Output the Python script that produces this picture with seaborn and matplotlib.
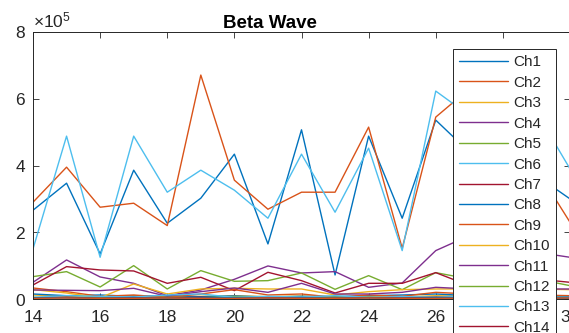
import numpy as np
import pandas as pd
import matplotlib
matplotlib.use("Agg")
import matplotlib.pyplot as plt
from matplotlib.ticker import ScalarFormatter
import seaborn as sns

# ---- data ----
freqs = [14, 15, 16, 17, 18, 19, 20, 21, 22, 23, 24, 25, 26, 27, 28, 29, 30]
channels = [f"Ch{i}" for i in range(1, 17)]

ch1 = [2.66e5, 3.47e5, 1.35e5, 3.86e5, 2.27e5, 3.02e5, 4.34e5, 1.65e5, 5.07e5, 0.72e5, 4.88e5, 2.42e5, 5.36e5, 4.40e5, 3.80e5, 3.70e5, 3.00e5]
ch2 = [2.90e5, 3.95e5, 2.75e5, 2.87e5, 2.20e5, 6.71e5, 3.56e5, 2.69e5, 3.20e5, 3.20e5, 5.15e5, 1.52e5, 5.45e5, 6.30e5, 5.40e5, 3.90e5, 2.30e5]
ch3 = [0.12e5, 0.08e5, 0.05e5, 0.10e5, 0.06e5, 0.08e5, 0.10e5, 0.07e5, 0.09e5, 0.05e5, 0.08e5, 0.06e5, 0.10e5, 0.08e5, 0.07e5, 0.09e5, 0.06e5]
ch4 = [0.50e5, 1.17e5, 0.66e5, 0.47e5, 0.10e5, 0.27e5, 0.59e5, 0.99e5, 0.78e5, 0.82e5, 0.35e5, 0.48e5, 1.45e5, 1.90e5, 1.70e5, 1.40e5, 1.25e5]
ch5 = [0.67e5, 0.82e5, 0.36e5, 1.00e5, 0.30e5, 0.85e5, 0.53e5, 0.55e5, 0.78e5, 0.29e5, 0.70e5, 0.28e5, 0.79e5, 0.60e5, 0.50e5, 0.60e5, 0.40e5]
ch6 = [1.50e5, 4.88e5, 1.25e5, 4.88e5, 3.20e5, 3.86e5, 3.26e5, 2.42e5, 4.34e5, 2.60e5, 4.52e5, 1.45e5, 6.23e5, 5.50e5, 4.60e5, 5.60e5, 3.90e5]
ch7 = [0.42e5, 0.97e5, 0.87e5, 0.84e5, 0.47e5, 0.65e5, 0.25e5, 0.80e5, 0.55e5, 0.18e5, 0.47e5, 0.47e5, 0.79e5, 0.40e5, 0.50e5, 0.60e5, 0.50e5]
ch8 = [0.15e5, 0.10e5, 0.12e5, 0.08e5, 0.10e5, 0.07e5, 0.09e5, 0.06e5, 0.08e5, 0.07e5, 0.10e5, 0.12e5, 0.15e5, 0.10e5, 0.12e5, 0.10e5, 0.08e5]
ch9 = [0.33e5, 0.22e5, 0.08e5, 0.12e5, 0.05e5, 0.15e5, 0.28e5, 0.12e5, 0.15e5, 0.05e5, 0.12e5, 0.08e5, 0.20e5, 0.15e5, 0.10e5, 0.12e5, 0.10e5]
ch10 = [0.28e5, 0.18e5, 0.04e5, 0.45e5, 0.15e5, 0.30e5, 0.32e5, 0.30e5, 0.30e5, 0.12e5, 0.22e5, 0.28e5, 0.30e5, 0.30e5, 0.25e5, 0.30e5, 0.28e5]
ch11 = [0.27e5, 0.26e5, 0.25e5, 0.32e5, 0.08e5, 0.22e5, 0.33e5, 0.20e5, 0.47e5, 0.15e5, 0.15e5, 0.20e5, 0.35e5, 0.30e5, 0.40e5, 0.30e5, 0.30e5]
ch12 = [0.05e5, 0.04e5, 0.06e5, 0.03e5, 0.05e5, 0.04e5, 0.07e5, 0.05e5, 0.04e5, 0.06e5, 0.05e5, 0.03e5, 0.06e5, 0.05e5, 0.04e5, 0.05e5, 0.04e5]
ch13 = [0.05e5, 0.10e5, 0.08e5, 0.06e5, 0.12e5, 0.15e5, 0.05e5, 0.08e5, 0.06e5, 0.10e5, 0.05e5, 0.07e5, 0.06e5, 0.08e5, 0.07e5, 0.06e5, 0.05e5]
ch14 = [0.03e5, 0.05e5, 0.02e5, 0.04e5, 0.03e5, 0.05e5, 0.02e5, 0.04e5, 0.03e5, 0.02e5, 0.04e5, 0.03e5, 0.05e5, 0.03e5, 0.04e5, 0.03e5, 0.02e5]
ch15 = [0.04e5, 0.03e5, 0.02e5, 0.03e5, 0.02e5, 0.03e5, 0.04e5, 0.02e5, 0.03e5, 0.02e5, 0.03e5, 0.02e5, 0.04e5, 0.03e5, 0.02e5, 0.03e5, 0.02e5]
ch16 = [0.02e5, 0.03e5, 0.02e5, 0.02e5, 0.03e5, 0.02e5, 0.02e5, 0.03e5, 0.02e5, 0.02e5, 0.03e5, 0.02e5, 0.02e5, 0.03e5, 0.02e5, 0.02e5, 0.03e5]

series = [ch1, ch2, ch3, ch4, ch5, ch6, ch7, ch8, ch9, ch10, ch11, ch12, ch13, ch14, ch15, ch16]

matlab_colors = ['#0072BD', '#D95319', '#EDB120', '#7E2F8E', '#77AC30', '#4DBEEE', '#A2142F']
palette = [matlab_colors[i % 7] for i in range(len(channels))]

rows = []
for name, vals in zip(channels, series):
    for f, v in zip(freqs, vals):
        rows.append((name, f, v))
df = pd.DataFrame(rows, columns=["channel", "freq", "power"])

# ---- style ----
sns.set_style("ticks")
plt.rcParams['font.family'] = ['Liberation Sans', 'DejaVu Sans']
plt.rcParams['mathtext.fontset'] = 'custom'
plt.rcParams['mathtext.rm'] = 'Liberation Sans'
plt.rcParams['mathtext.it'] = 'Liberation Sans:italic'
plt.rcParams['mathtext.bf'] = 'Liberation Sans:bold'

W, H = 569, 333
fig = plt.figure(figsize=(W / 100, H / 100), dpi=100)
left_px, right_px, top_px, bot_px = 33, 570, 32, 299
ax = fig.add_axes([left_px / W, (H - bot_px) / H, (right_px - left_px) / W, (bot_px - top_px) / H])

sns.lineplot(data=df, x="freq", y="power", hue="channel", hue_order=channels,
             palette=palette, linewidth=1.0, estimator=None, sort=True, ax=ax, legend=True)

ax.set_xlim(14, 30)
ax.set_ylim(0, 8e5)
ax.set_xticks(np.arange(14, 31, 2))
ax.set_yticks(np.arange(0, 8.01e5, 2e5))
fmt = ScalarFormatter(useMathText=True)
fmt.set_powerlimits((0, 0))
ax.yaxis.set_major_formatter(fmt)
ax.set_xlabel("")
ax.set_ylabel("")

axcol = '#262626'
for s in ax.spines.values():
    s.set_visible(True)
    s.set_color(axcol)
    s.set_linewidth(0.7)
ax.tick_params(direction='in', top=True, right=True, length=4, width=0.6,
               colors=axcol, labelsize=12.5)
ax.tick_params(axis='x', pad=8)
ax.tick_params(axis='y', pad=5)
ax.yaxis.get_offset_text().set_fontsize(12.5)
ax.yaxis.get_offset_text().set_color(axcol)

ax.set_title("Beta Wave", fontsize=13.5, fontweight='bold', color='black',
             x=(270 - left_px) / (right_px - left_px), pad=3)

# legend box: left 453px, right 556px, top 49px
lx0 = (453 - left_px) / (right_px - left_px)
lx1 = (556 - left_px) / (right_px - left_px)
ly1 = (bot_px - 49) / (bot_px - top_px)
sns.move_legend(ax, "upper left", bbox_to_anchor=(lx0, ly1 - 2.0, lx1 - lx0, 2.0),
                mode="expand", title=None, frameon=True, fancybox=False,
                fontsize=11, handlelength=3.2, handletextpad=0.35,
                labelspacing=0.42, borderpad=0.42, borderaxespad=0.0,
                framealpha=1.0, edgecolor=axcol)
leg = ax.get_legend()
leg.get_frame().set_linewidth(0.7)
for line in leg.get_lines():
    line.set_linewidth(1.0)

fig.savefig("out.png", dpi=100)
